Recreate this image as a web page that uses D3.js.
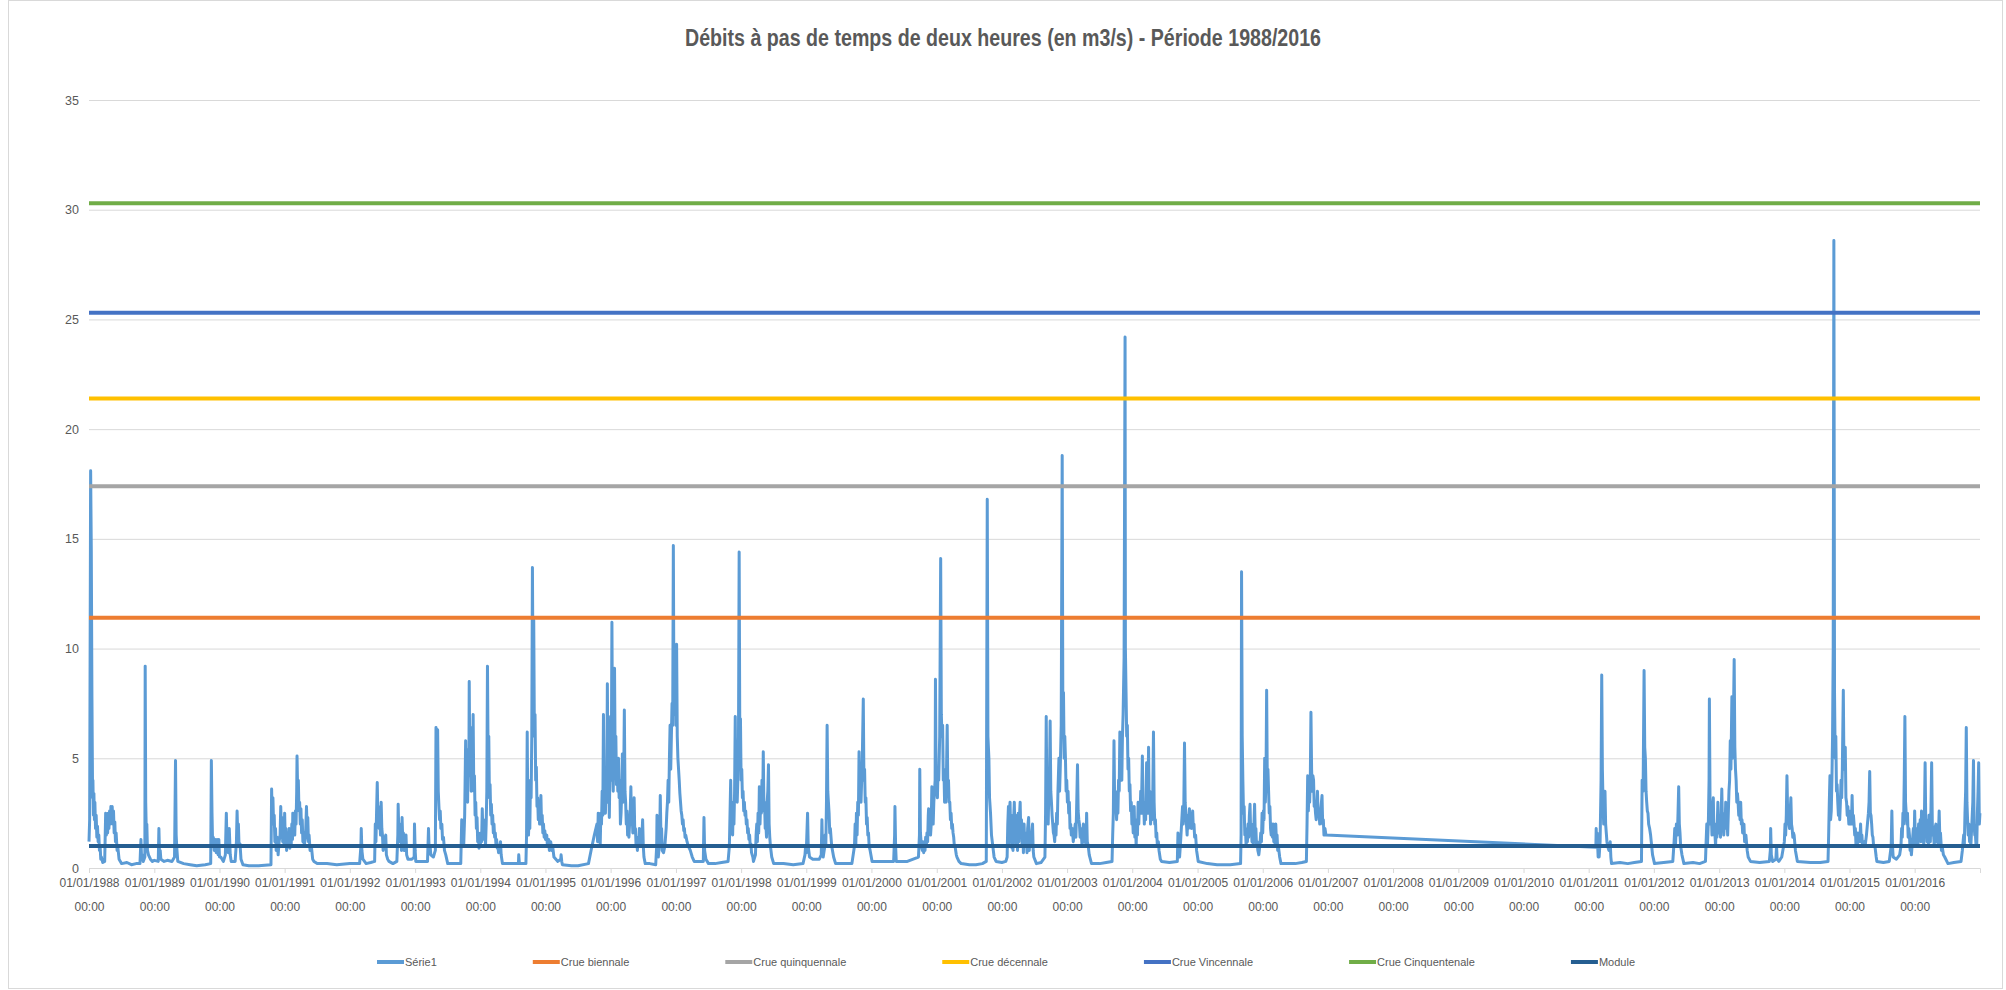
<!DOCTYPE html>
<html>
<head>
<meta charset="utf-8">
<script src="https://cdn.jsdelivr.net/npm/d3@7"></script>
<style>
  body { margin: 0; background: #fff; }
  text { font-family: "Liberation Sans", Arial, sans-serif; fill: #595959; }
</style>
</head>
<body>
<svg id="chart" width="2006" height="990"></svg>
<script>
// 2-hour flows, as [decimal year, m3/s]
var flow1988_1990 = [
  [1988.00, 1.2], [1988.01, 2.2], [1988.025, 18.1], [1988.035, 14.5], [1988.045, 7.7], [1988.055, 3.2],
  [1988.06, 4.0], [1988.068, 2.4], [1988.075, 3.4], [1988.083, 2.2], [1988.09, 3.0], [1988.10, 1.8],
  [1988.11, 2.4], [1988.12, 1.4], [1988.13, 1.9], [1988.14, 1.2], [1988.15, 1.5], [1988.16, 0.8],
  [1988.17, 1.0], [1988.18, 0.4], [1988.19, 0.5], [1988.21, 0.25], [1988.24, 0.3], [1988.255, 2.5],
  [1988.265, 1.5], [1988.275, 2.2], [1988.285, 1.6], [1988.295, 2.5], [1988.305, 1.8], [1988.315, 2.6],
  [1988.325, 2.0], [1988.335, 2.8], [1988.345, 2.2], [1988.355, 2.8], [1988.365, 2.0], [1988.375, 2.6],
  [1988.385, 1.6], [1988.395, 2.1], [1988.405, 1.2], [1988.415, 1.6], [1988.43, 0.8], [1988.44, 1.0],
  [1988.46, 0.4], [1988.48, 0.3], [1988.50, 0.2], [1988.58, 0.25], [1988.65, 0.15], [1988.72, 0.2],
  [1988.78, 0.2], [1988.795, 1.3], [1988.805, 0.4], [1988.815, 0.6], [1988.83, 0.3], [1988.855, 0.5],
  [1988.86, 9.2], [1988.868, 3.0], [1988.876, 1.8], [1988.885, 2.0], [1988.895, 0.8], [1988.91, 0.6],
  [1988.94, 0.4], [1988.97, 0.3], [1989.00, 0.35], [1989.06, 0.3], [1989.07, 1.8], [1989.08, 0.6],
  [1989.09, 0.8], [1989.10, 0.4], [1989.15, 0.3], [1989.20, 0.35], [1989.27, 0.3], [1989.31, 0.5],
  [1989.325, 4.9], [1989.335, 1.5], [1989.345, 0.9], [1989.36, 0.3], [1989.45, 0.2], [1989.55, 0.15],
  [1989.65, 0.1], [1989.78, 0.15], [1989.865, 0.2], [1989.875, 4.9], [1989.885, 2.5], [1989.895, 1.0],
  [1989.905, 1.4], [1989.92, 0.8], [1989.935, 1.3], [1989.95, 0.7], [1989.965, 1.3], [1989.98, 0.6],
  [1989.99, 1.3], [1990.00, 0.5], [1990.02, 0.5], [1990.06, 0.3], [1990.09, 0.6], [1990.105, 2.5],
  [1990.115, 1.2], [1990.125, 1.6], [1990.135, 0.7], [1990.15, 1.8], [1990.165, 0.6], [1990.18, 0.3],
  [1990.24, 0.3], [1990.26, 1.2], [1990.27, 2.6], [1990.28, 1.5], [1990.29, 2.0], [1990.30, 1.0],
  [1990.315, 1.1], [1990.33, 0.4], [1990.36, 0.15], [1990.45, 0.1], [1990.60, 0.1], [1990.79, 0.15]
];
var flow1990_1993 = [
  [1990.80, 3.6], [1990.81, 2.2], [1990.82, 3.2], [1990.83, 2.0], [1990.84, 2.4], [1990.85, 1.2],
  [1990.86, 1.8], [1990.87, 0.8], [1990.885, 1.4], [1990.90, 0.6], [1990.915, 1.2], [1990.93, 1.5],
  [1990.94, 2.8], [1990.95, 1.6], [1990.96, 2.3], [1990.97, 1.2], [1990.98, 1.8], [1990.99, 1.0],
  [1991.00, 2.5], [1991.01, 1.2], [1991.02, 1.8], [1991.03, 0.8], [1991.045, 1.6], [1991.06, 1.0],
  [1991.07, 1.8], [1991.08, 0.9], [1991.09, 1.5], [1991.10, 1.0], [1991.11, 2.0], [1991.12, 1.3],
  [1991.125, 2.5], [1991.135, 1.6], [1991.145, 2.2], [1991.155, 1.5], [1991.165, 2.6], [1991.175, 2.0],
  [1991.185, 3.5], [1991.19, 5.1], [1991.20, 3.4], [1991.21, 4.0], [1991.22, 2.6], [1991.23, 3.0],
  [1991.24, 2.0], [1991.25, 2.7], [1991.26, 1.6], [1991.27, 2.2], [1991.28, 1.2], [1991.29, 1.6],
  [1991.30, 1.0], [1991.32, 1.4], [1991.335, 2.8], [1991.345, 1.8], [1991.355, 2.3], [1991.365, 1.2],
  [1991.375, 1.5], [1991.39, 0.8], [1991.41, 1.0], [1991.43, 0.4], [1991.45, 0.3], [1991.50, 0.2],
  [1991.65, 0.2], [1991.80, 0.15], [1992.00, 0.2], [1992.15, 0.2], [1992.17, 1.0], [1992.175, 1.8],
  [1992.185, 0.8], [1992.20, 0.4], [1992.25, 0.2], [1992.32, 0.25], [1992.38, 0.3], [1992.39, 2.0],
  [1992.40, 1.2], [1992.41, 2.6], [1992.42, 3.9], [1992.43, 2.3], [1992.44, 2.8], [1992.45, 1.8],
  [1992.46, 2.3], [1992.47, 1.5], [1992.48, 3.0], [1992.49, 1.8], [1992.50, 1.5], [1992.51, 0.8],
  [1992.53, 1.3], [1992.55, 1.5], [1992.56, 0.6], [1992.58, 0.4], [1992.60, 0.3], [1992.66, 0.2],
  [1992.72, 0.3], [1992.735, 1.5], [1992.74, 2.9], [1992.75, 1.6], [1992.76, 2.0], [1992.77, 1.2],
  [1992.78, 1.6], [1992.79, 0.8], [1992.80, 2.3], [1992.81, 1.3], [1992.82, 1.6], [1992.83, 0.8],
  [1992.845, 1.2], [1992.86, 1.5], [1992.87, 0.6], [1992.89, 0.4], [1992.95, 0.4], [1992.985, 0.5],
  [1992.99, 2.0], [1993.00, 0.8], [1993.01, 0.3], [1993.10, 0.3], [1993.19, 0.3], [1993.205, 1.8],
  [1993.215, 0.8], [1993.23, 1.0], [1993.24, 0.6], [1993.28, 0.5], [1993.31, 0.8], [1993.32, 6.4],
  [1993.335, 5.0], [1993.345, 6.3], [1993.355, 3.5], [1993.365, 2.8], [1993.375, 2.2], [1993.385, 2.6],
  [1993.395, 1.8], [1993.41, 2.0], [1993.42, 1.3], [1993.435, 1.4], [1993.45, 0.8], [1993.47, 0.6],
  [1993.50, 0.2], [1993.60, 0.2], [1993.70, 0.2]
];
var flow1993_1996 = [
  [1993.715, 2.2], [1993.725, 1.5], [1993.735, 2.0], [1993.745, 1.0], [1993.76, 2.4], [1993.775, 5.8],
  [1993.785, 3.5], [1993.795, 5.0], [1993.805, 3.0], [1993.815, 5.4], [1993.825, 4.5], [1993.83, 8.5],
  [1993.84, 4.2], [1993.85, 6.0], [1993.86, 3.5], [1993.87, 6.4], [1993.88, 4.0], [1993.89, 7.0],
  [1993.90, 3.5], [1993.91, 4.2], [1993.92, 2.4], [1993.93, 3.0], [1993.94, 1.8], [1993.95, 2.3],
  [1993.96, 1.2], [1993.97, 1.6], [1993.98, 0.9], [1993.99, 1.4], [1994.00, 1.0], [1994.01, 1.6],
  [1994.02, 1.2], [1994.03, 2.7], [1994.04, 1.6], [1994.05, 2.2], [1994.06, 1.3], [1994.07, 1.8],
  [1994.08, 1.0], [1994.09, 2.0], [1994.10, 3.5], [1994.11, 9.2], [1994.12, 5.0], [1994.13, 6.0],
  [1994.14, 3.2], [1994.15, 3.8], [1994.16, 2.4], [1994.17, 2.9], [1994.18, 2.0], [1994.19, 2.4],
  [1994.20, 1.6], [1994.21, 2.0], [1994.22, 1.4], [1994.23, 1.6], [1994.24, 1.1], [1994.25, 1.3],
  [1994.26, 0.9], [1994.27, 1.0], [1994.28, 0.7], [1994.30, 1.0], [1994.31, 1.2], [1994.32, 0.6],
  [1994.34, 0.2], [1994.45, 0.2], [1994.585, 0.2], [1994.59, 0.6], [1994.60, 0.2], [1994.70, 0.2],
  [1994.71, 1.5], [1994.72, 6.2], [1994.73, 2.0], [1994.74, 1.5], [1994.75, 2.5], [1994.76, 1.8],
  [1994.77, 4.0], [1994.78, 3.2], [1994.79, 6.0], [1994.80, 13.7], [1994.81, 8.0], [1994.82, 11.3],
  [1994.83, 6.0], [1994.84, 7.0], [1994.85, 4.0], [1994.86, 4.6], [1994.87, 2.8], [1994.88, 3.2],
  [1994.89, 2.2], [1994.90, 2.8], [1994.91, 2.0], [1994.92, 2.6], [1994.93, 3.3], [1994.94, 2.0],
  [1994.95, 2.4], [1994.96, 1.6], [1994.97, 2.0], [1994.98, 1.4], [1994.99, 1.7], [1995.00, 1.3],
  [1995.02, 1.5], [1995.03, 1.0], [1995.05, 1.3], [1995.06, 0.8], [1995.08, 1.2], [1995.10, 0.8],
  [1995.11, 1.0], [1995.13, 0.5], [1995.16, 0.4], [1995.19, 0.3], [1995.235, 0.4], [1995.24, 0.6],
  [1995.25, 0.3], [1995.26, 0.15], [1995.40, 0.1], [1995.50, 0.1], [1995.66, 0.2], [1995.70, 0.8],
  [1995.75, 1.5], [1995.79, 2.0], [1995.80, 1.2], [1995.81, 2.5], [1995.82, 1.5], [1995.83, 2.0],
  [1995.84, 1.0], [1995.85, 2.5], [1995.86, 2.0], [1995.87, 3.5], [1995.88, 2.4], [1995.89, 7.0],
  [1995.90, 3.5], [1995.91, 4.5], [1995.92, 2.5], [1995.93, 3.8], [1995.94, 3.0], [1995.95, 8.4],
  [1995.96, 3.5], [1995.97, 5.0], [1995.98, 2.3], [1995.99, 4.5], [1996.00, 6.9], [1996.01, 4.0],
  [1996.02, 11.2], [1996.03, 5.0], [1996.04, 3.5], [1996.05, 5.5], [1996.06, 9.1], [1996.07, 4.5],
  [1996.08, 6.0], [1996.09, 3.8], [1996.10, 5.0], [1996.11, 3.5], [1996.12, 5.0], [1996.13, 3.2],
  [1996.14, 4.0], [1996.15, 2.0], [1996.16, 2.5], [1996.17, 3.5], [1996.18, 5.2], [1996.19, 3.0],
  [1996.20, 4.0], [1996.21, 7.2], [1996.22, 3.5], [1996.23, 3.0], [1996.24, 2.0], [1996.25, 2.6],
  [1996.26, 1.5], [1996.27, 2.0], [1996.28, 1.4], [1996.29, 2.0], [1996.30, 2.6], [1996.31, 3.7],
  [1996.32, 2.0], [1996.33, 2.4], [1996.34, 1.6], [1996.35, 2.2], [1996.36, 3.2], [1996.37, 1.6],
  [1996.38, 1.8], [1996.39, 1.0], [1996.40, 1.2], [1996.41, 0.8], [1996.42, 1.4], [1996.43, 1.0],
  [1996.44, 1.8], [1996.45, 1.2], [1996.46, 1.6], [1996.47, 1.0], [1996.48, 1.5], [1996.49, 2.2],
  [1996.50, 1.0], [1996.51, 0.5], [1996.53, 0.2], [1996.60, 0.2], [1996.69, 0.15]
];
var flow1996_1999 = [
  [1996.705, 1.0], [1996.71, 2.4], [1996.72, 1.0], [1996.73, 0.5], [1996.75, 1.2], [1996.76, 3.3],
  [1996.77, 1.5], [1996.78, 1.8], [1996.79, 0.8], [1996.81, 0.7], [1996.83, 1.0], [1996.85, 1.8],
  [1996.86, 2.5], [1996.87, 3.0], [1996.88, 4.0], [1996.89, 3.0], [1996.90, 5.0], [1996.91, 6.5],
  [1996.92, 4.5], [1996.93, 6.0], [1996.94, 7.5], [1996.95, 6.5], [1996.96, 14.7], [1996.97, 7.0],
  [1996.98, 8.0], [1996.99, 9.0], [1997.00, 6.5], [1997.01, 10.2], [1997.02, 6.0], [1997.03, 5.0],
  [1997.04, 4.5], [1997.05, 4.0], [1997.06, 3.4], [1997.07, 3.0], [1997.08, 2.6], [1997.09, 2.4],
  [1997.10, 2.0], [1997.11, 2.2], [1997.12, 1.7], [1997.13, 1.8], [1997.14, 1.4], [1997.15, 1.5],
  [1997.17, 1.2], [1997.19, 1.0], [1997.22, 0.8], [1997.25, 0.5], [1997.28, 0.3], [1997.35, 0.3],
  [1997.42, 0.3], [1997.43, 2.3], [1997.44, 0.8], [1997.46, 0.4], [1997.50, 0.2], [1997.60, 0.2],
  [1997.70, 0.25], [1997.80, 0.3], [1997.82, 1.0], [1997.84, 4.0], [1997.85, 2.0], [1997.86, 2.8],
  [1997.87, 1.5], [1997.88, 3.0], [1997.89, 2.0], [1997.90, 3.5], [1997.91, 6.9], [1997.92, 3.2],
  [1997.93, 4.0], [1997.94, 3.0], [1997.95, 4.0], [1997.96, 6.0], [1997.97, 14.4], [1997.98, 6.0],
  [1997.99, 6.8], [1998.00, 4.0], [1998.01, 4.5], [1998.02, 3.2], [1998.03, 3.5], [1998.04, 2.6],
  [1998.05, 3.0], [1998.06, 2.4], [1998.07, 2.6], [1998.08, 2.0], [1998.09, 2.2], [1998.10, 1.6],
  [1998.11, 1.8], [1998.12, 1.3], [1998.13, 1.5], [1998.14, 1.0], [1998.15, 1.1], [1998.16, 0.7],
  [1998.18, 0.5], [1998.19, 0.3], [1998.22, 0.6], [1998.23, 1.5], [1998.24, 2.0], [1998.25, 1.2],
  [1998.26, 2.5], [1998.27, 1.6], [1998.28, 3.7], [1998.29, 2.0], [1998.30, 3.0], [1998.31, 2.5],
  [1998.32, 4.0], [1998.33, 2.6], [1998.34, 5.3], [1998.35, 2.8], [1998.36, 3.0], [1998.37, 1.8],
  [1998.38, 2.0], [1998.39, 1.4], [1998.40, 3.0], [1998.41, 3.5], [1998.42, 4.7], [1998.43, 2.0],
  [1998.44, 1.4], [1998.45, 1.0], [1998.47, 0.5], [1998.50, 0.2], [1998.65, 0.2], [1998.80, 0.15],
  [1998.95, 0.2], [1998.98, 0.6], [1998.99, 1.0], [1999.00, 0.7], [1999.02, 2.5], [1999.03, 1.0],
  [1999.05, 0.5], [1999.10, 0.4], [1999.20, 0.4], [1999.23, 0.6], [1999.24, 2.2], [1999.25, 0.8],
  [1999.26, 0.5], [1999.28, 0.9], [1999.29, 1.5], [1999.30, 1.0], [1999.31, 3.0], [1999.32, 6.5],
  [1999.33, 3.5], [1999.34, 3.0], [1999.35, 2.5], [1999.36, 1.6], [1999.37, 1.8], [1999.39, 1.0],
  [1999.42, 0.5], [1999.45, 0.2], [1999.60, 0.2], [1999.70, 0.2]
];
var flow1999_2002 = [
  [1999.74, 1.0], [1999.75, 2.0], [1999.76, 1.0], [1999.77, 2.5], [1999.78, 1.5], [1999.79, 3.0],
  [1999.80, 2.4], [1999.81, 5.3], [1999.82, 3.0], [1999.83, 3.5], [1999.84, 3.0], [1999.85, 4.0],
  [1999.86, 5.0], [1999.875, 7.7], [1999.885, 4.0], [1999.895, 4.5], [1999.905, 3.0], [1999.915, 3.2],
  [1999.925, 2.0], [1999.935, 2.3], [1999.945, 1.5], [1999.955, 1.6], [1999.965, 1.0], [1999.98, 0.8],
  [2000.01, 0.3], [2000.15, 0.3], [2000.34, 0.3], [2000.355, 1.5], [2000.36, 2.8], [2000.37, 1.0],
  [2000.38, 0.3], [2000.55, 0.3], [2000.72, 0.5], [2000.735, 1.5], [2000.74, 4.5], [2000.75, 1.6],
  [2000.765, 1.0], [2000.78, 0.8], [2000.79, 1.2], [2000.80, 0.7], [2000.81, 1.2], [2000.82, 0.8],
  [2000.83, 1.4], [2000.84, 1.0], [2000.85, 1.6], [2000.86, 1.2], [2000.87, 2.4], [2000.875, 2.7],
  [2000.885, 1.6], [2000.895, 2.2], [2000.905, 1.5], [2000.915, 2.0], [2000.925, 3.7], [2000.935, 2.4],
  [2000.945, 2.0], [2000.955, 3.0], [2000.965, 3.5], [2000.975, 4.0], [2000.98, 8.6], [2000.99, 4.0],
  [2001.00, 3.5], [2001.01, 3.2], [2001.02, 4.5], [2001.03, 4.0], [2001.045, 6.0], [2001.06, 14.1],
  [2001.07, 7.0], [2001.08, 6.0], [2001.09, 6.5], [2001.10, 4.0], [2001.11, 4.5], [2001.12, 3.0],
  [2001.13, 3.5], [2001.14, 3.0], [2001.15, 4.5], [2001.16, 6.5], [2001.17, 3.5], [2001.18, 4.0],
  [2001.19, 3.0], [2001.20, 3.0], [2001.21, 2.2], [2001.22, 2.5], [2001.23, 1.8], [2001.24, 2.0],
  [2001.25, 1.6], [2001.26, 1.4], [2001.27, 1.0], [2001.28, 1.0], [2001.30, 0.6], [2001.31, 0.5],
  [2001.34, 0.3], [2001.375, 0.2], [2001.50, 0.15], [2001.60, 0.15], [2001.70, 0.2], [2001.76, 0.3],
  [2001.775, 16.8], [2001.785, 6.0], [2001.80, 5.0], [2001.81, 3.2], [2001.825, 2.5], [2001.84, 1.5],
  [2001.86, 1.0], [2001.88, 0.5], [2001.91, 0.3], [2002.00, 0.25], [2002.06, 0.3]
];
var flow2002_2005 = [
  [2002.08, 0.5], [2002.09, 2.0], [2002.10, 2.8], [2002.105, 1.0], [2002.115, 2.6], [2002.125, 3.0],
  [2002.135, 1.2], [2002.145, 2.4], [2002.155, 0.9], [2002.16, 2.0], [2002.17, 0.8], [2002.18, 2.2],
  [2002.19, 3.0], [2002.20, 1.5], [2002.21, 2.4], [2002.22, 1.0], [2002.23, 2.0], [2002.24, 0.8],
  [2002.25, 2.5], [2002.26, 1.2], [2002.27, 2.4], [2002.28, 3.0], [2002.29, 1.5], [2002.30, 2.2],
  [2002.31, 1.0], [2002.32, 1.8], [2002.33, 0.7], [2002.34, 2.0], [2002.35, 1.0], [2002.36, 1.6],
  [2002.375, 1.5], [2002.385, 0.7], [2002.395, 1.8], [2002.41, 2.3], [2002.42, 0.8], [2002.43, 1.4],
  [2002.44, 1.0], [2002.455, 1.5], [2002.47, 2.0], [2002.48, 0.8], [2002.49, 0.5], [2002.53, 0.2],
  [2002.60, 0.25], [2002.66, 0.5], [2002.67, 2.5], [2002.68, 6.9], [2002.69, 3.0], [2002.70, 2.4],
  [2002.71, 2.0], [2002.72, 3.5], [2002.73, 4.0], [2002.74, 6.7], [2002.75, 3.5], [2002.76, 3.0],
  [2002.77, 2.4], [2002.78, 2.0], [2002.79, 1.6], [2002.80, 1.5], [2002.81, 1.2], [2002.82, 2.0],
  [2002.83, 1.5], [2002.84, 2.5], [2002.85, 2.0], [2002.86, 3.5], [2002.875, 5.0], [2002.885, 3.5],
  [2002.895, 4.5], [2002.91, 6.5], [2002.925, 18.8], [2002.935, 7.0], [2002.945, 8.0], [2002.955, 5.0],
  [2002.965, 6.0], [2002.975, 5.0], [2002.985, 3.5], [2002.995, 4.0], [2003.005, 3.0], [2003.015, 3.5],
  [2003.025, 2.5], [2003.035, 3.0], [2003.045, 1.8], [2003.055, 2.0], [2003.065, 1.5], [2003.08, 1.8],
  [2003.095, 1.2], [2003.11, 1.6], [2003.125, 2.0], [2003.135, 1.4], [2003.145, 2.5], [2003.16, 4.7],
  [2003.17, 2.6], [2003.18, 2.2], [2003.19, 2.0], [2003.20, 1.4], [2003.21, 1.8], [2003.22, 1.5],
  [2003.23, 1.0], [2003.24, 1.6], [2003.25, 2.0], [2003.26, 1.2], [2003.275, 1.6], [2003.29, 1.0],
  [2003.30, 2.5], [2003.31, 1.2], [2003.325, 1.0], [2003.34, 0.6], [2003.375, 0.2], [2003.50, 0.2],
  [2003.60, 0.25], [2003.69, 0.3], [2003.70, 1.5], [2003.71, 2.5], [2003.72, 5.8], [2003.73, 3.0],
  [2003.74, 3.5], [2003.75, 3.0], [2003.76, 2.2], [2003.77, 3.0], [2003.78, 2.5], [2003.79, 4.0],
  [2003.80, 3.5], [2003.81, 6.2], [2003.82, 4.0], [2003.83, 5.0], [2003.84, 4.0], [2003.85, 6.0],
  [2003.86, 7.0], [2003.875, 9.6], [2003.89, 24.2], [2003.895, 10.0], [2003.905, 8.0], [2003.915, 6.0],
  [2003.925, 6.5], [2003.935, 4.5], [2003.945, 5.0], [2003.955, 3.5], [2003.965, 3.8], [2003.975, 2.6],
  [2003.985, 3.0], [2003.995, 2.0], [2004.005, 2.4], [2004.015, 1.6], [2004.025, 2.0], [2004.03, 2.8],
  [2004.04, 1.4], [2004.05, 2.0], [2004.06, 1.0], [2004.07, 2.2], [2004.08, 1.5], [2004.09, 3.0],
  [2004.10, 2.0], [2004.11, 3.0], [2004.12, 2.5], [2004.13, 3.5], [2004.14, 2.5], [2004.155, 5.1],
  [2004.165, 2.5], [2004.175, 3.0], [2004.185, 2.0], [2004.195, 3.0], [2004.205, 2.2], [2004.22, 4.8],
  [2004.23, 2.5], [2004.24, 3.0], [2004.25, 5.5], [2004.26, 2.5], [2004.27, 3.5], [2004.28, 2.0],
  [2004.29, 2.5], [2004.30, 2.2], [2004.315, 3.5], [2004.325, 6.2], [2004.335, 3.0], [2004.345, 2.0],
  [2004.355, 2.2], [2004.365, 1.4], [2004.375, 1.6], [2004.385, 1.0], [2004.40, 1.2], [2004.41, 0.8],
  [2004.43, 0.4], [2004.45, 0.3], [2004.57, 0.25], [2004.69, 0.3], [2004.70, 1.6], [2004.71, 0.6],
  [2004.725, 0.5], [2004.74, 1.2], [2004.755, 2.0], [2004.77, 2.8], [2004.78, 2.0], [2004.79, 3.0],
  [2004.80, 5.7], [2004.81, 3.0], [2004.82, 2.5], [2004.83, 2.0], [2004.84, 1.5], [2004.85, 2.4],
  [2004.86, 1.8], [2004.875, 2.7], [2004.885, 2.0], [2004.895, 2.4], [2004.905, 1.8], [2004.915, 2.2],
  [2004.925, 2.6], [2004.935, 1.8], [2004.945, 2.0], [2004.955, 1.4], [2004.97, 1.5], [2004.985, 0.8],
  [2005.00, 0.5], [2005.01, 0.3], [2005.15, 0.2], [2005.30, 0.15], [2005.50, 0.15], [2005.66, 0.2]
];
var flow2005_2007 = [
  [2005.668, 1.5], [2005.675, 13.5], [2005.685, 6.0], [2005.695, 4.0], [2005.705, 2.5], [2005.715, 2.8],
  [2005.725, 1.5], [2005.735, 1.8], [2005.745, 1.0], [2005.755, 1.6], [2005.765, 1.2], [2005.775, 2.0],
  [2005.785, 1.4], [2005.795, 2.4], [2005.805, 2.9], [2005.815, 1.6], [2005.825, 2.0], [2005.835, 1.2],
  [2005.845, 1.5], [2005.855, 1.0], [2005.865, 2.0], [2005.875, 2.9], [2005.885, 1.6], [2005.895, 1.8],
  [2005.905, 1.0], [2005.915, 1.2], [2005.925, 0.8], [2005.94, 0.6], [2005.955, 1.0], [2005.97, 1.6],
  [2005.98, 1.2], [2005.99, 2.5], [2006.00, 1.6], [2006.01, 2.6], [2006.02, 2.2], [2006.03, 5.0],
  [2006.04, 3.0], [2006.05, 4.0], [2006.06, 8.1], [2006.07, 4.0], [2006.08, 4.5], [2006.09, 3.5],
  [2006.10, 2.5], [2006.11, 2.8], [2006.12, 1.8], [2006.13, 1.5], [2006.14, 2.0], [2006.15, 1.4],
  [2006.16, 2.0], [2006.17, 1.2], [2006.18, 1.8], [2006.19, 1.0], [2006.20, 2.0], [2006.21, 1.2],
  [2006.22, 1.5], [2006.23, 0.8], [2006.24, 1.0], [2006.26, 0.5], [2006.28, 0.2], [2006.40, 0.2],
  [2006.50, 0.2], [2006.60, 0.25], [2006.67, 0.3], [2006.68, 2.0], [2006.69, 4.2], [2006.70, 2.6],
  [2006.71, 3.5], [2006.72, 3.0], [2006.73, 4.0], [2006.74, 7.1], [2006.75, 4.5], [2006.76, 3.5],
  [2006.77, 4.2], [2006.78, 4.0], [2006.79, 2.8], [2006.80, 3.0], [2006.81, 2.5], [2006.82, 2.2],
  [2006.83, 2.8], [2006.84, 3.5], [2006.85, 2.4], [2006.86, 2.6], [2006.875, 2.0], [2006.885, 2.5],
  [2006.895, 2.8], [2006.91, 3.3], [2006.92, 2.0], [2006.93, 2.2], [2006.94, 1.5], [2006.955, 1.8],
  [2006.97, 1.5]
];
var flow2011_2013 = [
  [2011.11, 0.95], [2011.115, 1.8], [2011.12, 1.0], [2011.13, 1.6], [2011.145, 0.5], [2011.16, 0.5],
  [2011.175, 1.2], [2011.19, 4.0], [2011.20, 8.8], [2011.21, 4.5], [2011.22, 3.0], [2011.23, 2.0],
  [2011.24, 2.2], [2011.25, 3.5], [2011.26, 2.0], [2011.27, 1.6], [2011.28, 1.2], [2011.29, 1.0],
  [2011.31, 0.8], [2011.33, 1.2], [2011.34, 0.5], [2011.35, 0.2], [2011.48, 0.25], [2011.60, 0.2],
  [2011.70, 0.25], [2011.81, 0.3], [2011.82, 4.0], [2011.835, 3.5], [2011.85, 9.0], [2011.86, 5.5],
  [2011.87, 5.0], [2011.88, 3.5], [2011.89, 3.0], [2011.90, 2.6], [2011.91, 2.5], [2011.92, 2.0],
  [2011.935, 1.8], [2011.95, 1.5], [2011.96, 1.2], [2011.98, 0.6], [2012.01, 0.2], [2012.15, 0.25],
  [2012.29, 0.3], [2012.31, 1.2], [2012.32, 1.8], [2012.33, 1.0], [2012.345, 2.0], [2012.36, 1.5],
  [2012.37, 2.5], [2012.38, 3.7], [2012.39, 2.0], [2012.40, 1.6], [2012.41, 1.0], [2012.43, 0.6],
  [2012.46, 0.2], [2012.60, 0.25], [2012.70, 0.2], [2012.79, 0.3], [2012.80, 1.2], [2012.81, 2.0],
  [2012.82, 1.0], [2012.835, 2.2], [2012.845, 4.0], [2012.85, 7.7], [2012.86, 3.0], [2012.87, 2.0],
  [2012.88, 2.4], [2012.89, 1.5], [2012.90, 2.8], [2012.91, 3.2], [2012.92, 1.5], [2012.93, 1.8],
  [2012.945, 1.0], [2012.955, 2.0], [2012.965, 1.4], [2012.98, 3.0], [2012.99, 1.6], [2013.00, 2.2],
  [2013.01, 2.0], [2013.02, 1.4], [2013.03, 2.4], [2013.04, 3.6], [2013.05, 2.0], [2013.06, 2.5],
  [2013.07, 1.5], [2013.08, 2.0], [2013.09, 1.8], [2013.10, 3.0], [2013.11, 2.0], [2013.12, 2.4],
  [2013.13, 1.5], [2013.14, 2.5], [2013.15, 3.5], [2013.16, 4.0], [2013.17, 5.8], [2013.18, 4.5],
  [2013.195, 7.8], [2013.205, 5.0], [2013.215, 6.0], [2013.23, 9.5], [2013.24, 5.5], [2013.25, 4.5],
  [2013.26, 4.0], [2013.27, 3.0], [2013.28, 3.4], [2013.29, 3.0], [2013.30, 2.4], [2013.31, 2.8],
  [2013.32, 2.2], [2013.33, 3.0], [2013.34, 2.0], [2013.35, 2.2], [2013.36, 1.6], [2013.37, 1.8],
  [2013.38, 2.0], [2013.39, 1.2], [2013.40, 1.4], [2013.41, 1.5], [2013.43, 0.8], [2013.445, 0.5],
  [2013.48, 0.3]
];
var flow2013_2016 = [
  [2013.62, 0.25], [2013.77, 0.3], [2013.785, 0.8], [2013.79, 1.8], [2013.80, 0.6], [2013.82, 0.3],
  [2013.87, 0.4], [2013.88, 1.0], [2013.89, 0.4], [2013.915, 0.3], [2013.96, 0.5], [2014.00, 1.2],
  [2014.01, 2.0], [2014.02, 1.5], [2014.03, 2.4], [2014.04, 4.2], [2014.05, 2.6], [2014.06, 2.4],
  [2014.07, 2.0], [2014.08, 1.8], [2014.09, 2.6], [2014.10, 3.2], [2014.11, 2.0], [2014.12, 1.8],
  [2014.13, 1.4], [2014.14, 1.6], [2014.15, 1.5], [2014.17, 0.8], [2014.20, 0.3], [2014.40, 0.25],
  [2014.55, 0.25], [2014.67, 0.3], [2014.68, 1.5], [2014.69, 3.0], [2014.70, 4.2], [2014.71, 2.2],
  [2014.72, 2.6], [2014.73, 4.0], [2014.74, 6.0], [2014.75, 10.0], [2014.76, 28.6], [2014.77, 8.0],
  [2014.78, 5.0], [2014.79, 6.0], [2014.80, 3.5], [2014.81, 3.8], [2014.82, 3.0], [2014.83, 2.4],
  [2014.84, 3.0], [2014.85, 2.2], [2014.86, 3.0], [2014.87, 4.0], [2014.88, 3.2], [2014.89, 4.5],
  [2014.905, 8.1], [2014.915, 4.5], [2014.925, 5.0], [2014.935, 5.5], [2014.945, 3.2], [2014.955, 3.0],
  [2014.965, 2.4], [2014.975, 2.8], [2014.99, 2.0], [2015.00, 2.2], [2015.01, 2.0], [2015.02, 2.6],
  [2015.03, 2.0], [2015.04, 3.3], [2015.05, 2.0], [2015.06, 2.4], [2015.07, 2.0], [2015.08, 1.5],
  [2015.09, 1.8], [2015.10, 1.0], [2015.11, 1.4], [2015.12, 1.0], [2015.13, 1.6], [2015.14, 1.2],
  [2015.15, 1.6], [2015.16, 1.2], [2015.17, 2.0], [2015.18, 1.2], [2015.19, 1.5], [2015.20, 1.0],
  [2015.22, 1.2], [2015.24, 1.0], [2015.26, 1.5], [2015.275, 2.0], [2015.29, 2.5], [2015.30, 3.0],
  [2015.31, 4.4], [2015.32, 2.5], [2015.33, 2.4], [2015.34, 2.0], [2015.35, 1.5], [2015.36, 1.4],
  [2015.37, 1.0], [2015.39, 1.0], [2015.41, 0.5], [2015.42, 0.3], [2015.52, 0.25], [2015.61, 0.3],
  [2015.64, 1.0], [2015.65, 2.6], [2015.66, 1.0], [2015.67, 0.5], [2015.72, 0.4], [2015.77, 0.6],
  [2015.79, 1.0], [2015.80, 1.8], [2015.81, 1.4], [2015.82, 2.5], [2015.83, 2.0], [2015.84, 4.0],
  [2015.85, 6.9], [2015.86, 3.0], [2015.87, 2.5], [2015.88, 2.0], [2015.89, 2.5], [2015.90, 1.4],
  [2015.91, 1.8], [2015.92, 1.5], [2015.93, 0.8], [2015.94, 1.0], [2015.95, 0.6], [2015.965, 1.2],
  [2015.98, 1.8], [2015.99, 1.0], [2016.00, 2.6], [2016.01, 1.2], [2016.02, 1.6], [2016.025, 1.0],
  [2016.04, 1.8], [2016.05, 1.0], [2016.06, 2.0], [2016.075, 1.5], [2016.085, 2.2], [2016.095, 1.2],
  [2016.105, 2.6], [2016.115, 1.6], [2016.125, 2.0], [2016.14, 1.0], [2016.15, 2.5], [2016.16, 4.8],
  [2016.17, 2.0], [2016.18, 2.2], [2016.19, 1.2], [2016.20, 1.5], [2016.21, 1.0], [2016.22, 2.4],
  [2016.23, 2.0], [2016.24, 1.2], [2016.25, 2.8], [2016.26, 4.8], [2016.27, 2.0], [2016.28, 1.5],
  [2016.29, 1.5], [2016.30, 1.0], [2016.31, 1.8], [2016.325, 2.0], [2016.335, 1.2], [2016.35, 1.6],
  [2016.36, 1.0], [2016.375, 2.6], [2016.385, 1.4], [2016.395, 1.6], [2016.41, 0.8], [2016.42, 1.0],
  [2016.44, 0.6], [2016.46, 0.5], [2016.51, 0.2], [2016.60, 0.25], [2016.71, 0.3], [2016.73, 0.8],
  [2016.75, 1.5], [2016.76, 1.0], [2016.77, 2.5], [2016.78, 3.5], [2016.79, 6.4], [2016.80, 3.0],
  [2016.81, 2.2], [2016.82, 1.5], [2016.83, 2.0], [2016.84, 1.2], [2016.85, 1.4], [2016.86, 1.0],
  [2016.875, 2.0], [2016.89, 3.0], [2016.90, 4.9], [2016.91, 2.0], [2016.92, 1.5], [2016.93, 1.5],
  [2016.94, 1.0], [2016.95, 1.0], [2016.96, 2.5], [2016.97, 3.5], [2016.98, 4.8], [2016.99, 2.0],
  [2016.999, 2.5]
];

// reference levels (m3/s)
var levelNames = ["Crue biennale", "Crue quinquennale", "Crue décennale", "Crue Vincennale", "Crue Cinquentenale", "Module"];
var levelValues = [11.4, 17.4, 21.4, 25.3, 30.3, 1.0];
var levelColors = ["#ED7D31", "#A5A5A5", "#FFC000", "#4472C4", "#70AD47", "#255E91"];
var periodYears = [1988, 2017];

var yTickValues = [0, 5, 10, 15, 20, 25, 30, 35];
var xTickYears = [1988, 1989, 1990, 1991, 1992, 1993, 1994, 1995, 1996, 1997, 1998, 1999, 2000, 2001,
  2002, 2003, 2004, 2005, 2006, 2007, 2008, 2009, 2010, 2011, 2012, 2013, 2014, 2015, 2016];

var title = "Débits à pas de temps de deux heures (en m3/s) - Période 1988/2016";

var yearToDate = function (yr) {
    var y0 = Math.floor(yr),
        start = Date.UTC(y0, 0, 1),
        end = Date.UTC(y0 + 1, 0, 1);
    return new Date(start + (yr - y0) * (end - start));
};
var pad = function (n) { return n < 10 ? "0" + n : "" + n; };

var serie1 = [].concat(flow1988_1990, flow1990_1993, flow1993_1996, flow1996_1999,
    flow1999_2002, flow2002_2005, flow2005_2007, flow2011_2013, flow2013_2016);

var plotLeft = 89, plotRight = 1980, plotTop = 100, plotBottom = 868,
    gridColor = "#D9D9D9";

var svg = d3.select("#chart");

// chart area border
svg.append("rect")
    .attr("x", 8.5).attr("y", 0.5)
    .attr("width", 1994).attr("height", 988)
    .attr("fill", "#fff")
    .attr("stroke", gridColor);

// the original used Calibri; use a narrow face if there is one
var probe = svg.append("text").attr("font-size", 20).text("01/01/1988");
var wideW = probe.node().getComputedTextLength();
probe.style("font-family", "'Liberation Sans Narrow'");
var narrowW = probe.node().getComputedTextLength();
probe.remove();
var hasNarrow = narrowW < wideW * 0.9,
    tickFont = hasNarrow ? "'Liberation Sans Narrow'" : null,
    tickSize = hasNarrow ? 14.5 : 12;

var x = d3.scaleUtc()
    .domain([yearToDate(periodYears[0]), yearToDate(periodYears[1])])
    .range([plotLeft, plotRight]);
var y = d3.scaleLinear().domain([0, 35]).range([plotBottom, plotTop]);

// y axis: gridlines + labels, no axis line
var yAxis = svg.append("g")
    .attr("transform", "translate(" + plotLeft + ",0)")
    .call(d3.axisLeft(y).tickValues(yTickValues).tickSize(-(plotRight - plotLeft)).tickPadding(10));
yAxis.select(".domain").remove();
yAxis.selectAll(".tick line").attr("stroke", gridColor).attr("stroke-width", 1);
yAxis.selectAll(".tick text")
    .attr("font-size", hasNarrow ? 14 : 12.5)
    .attr("font-family", null)
    .style("font-family", tickFont)
    .attr("fill", "#595959");

// x axis
var xAxis = svg.append("g")
    .attr("transform", "translate(0," + plotBottom + ")")
    .call(d3.axisBottom(x)
        .tickValues(xTickYears.map(yearToDate))
        .tickSize(5)
        .tickFormat(function () { return ""; }));
xAxis.select(".domain").attr("stroke", gridColor);
xAxis.selectAll(".tick line").attr("stroke", gridColor);
xAxis.selectAll(".tick text").remove();
xAxis.selectAll(".tick").each(function (d) {
    var g = d3.select(this);
    g.append("text")
        .attr("y", 19).attr("text-anchor", "middle").attr("font-size", tickSize)
        .style("font-family", tickFont)
        .text("01/01/" + d.getUTCFullYear());
    g.append("text")
        .attr("y", 43).attr("text-anchor", "middle").attr("font-size", tickSize)
        .style("font-family", tickFont)
        .text(pad(d.getUTCHours()) + ":" + pad(d.getUTCMinutes()));
});

// Série1
var line = d3.line()
    .x(function (d) { return x(yearToDate(d[0])); })
    .y(function (d) { return y(d[1]); });

svg.append("path")
    .datum(serie1)
    .attr("d", line)
    .attr("fill", "none")
    .attr("stroke", "#5B9BD5")
    .attr("stroke-width", 3)
    .attr("stroke-linejoin", "round");

// flood / module levels
svg.selectAll(".level")
    .data(levelValues)
    .enter().append("path")
    .attr("class", "level")
    .attr("d", function (v) { return line(periodYears.map(function (yr) { return [yr, v]; })); })
    .attr("fill", "none")
    .attr("stroke", function (v, i) { return levelColors[i]; })
    .attr("stroke-width", 4);

// title
svg.append("text")
    .attr("x", 1003).attr("y", 46)
    .attr("text-anchor", "middle")
    .attr("font-size", 24)
    .attr("font-weight", "bold")
    .attr("textLength", 636)
    .attr("lengthAdjust", "spacingAndGlyphs")
    .text(title);

// legend
var legendNames = ["Série1"].concat(levelNames),
    legendColors = ["#5B9BD5"].concat(levelColors),
    legendY = 962, swatchW = 27, gap = 96;

var legend = svg.append("g");
var items = legend.selectAll("g")
    .data(legendNames)
    .enter().append("g");
items.append("line")
    .attr("x1", 0).attr("x2", swatchW)
    .attr("y1", legendY).attr("y2", legendY)
    .attr("stroke", function (d, i) { return legendColors[i]; })
    .attr("stroke-width", 4);
items.append("text")
    .attr("x", swatchW + 1).attr("y", legendY + 4)
    .attr("font-size", hasNarrow ? 12.5 : 11)
    .style("font-family", tickFont)
    .text(function (d) { return d; });

var offsets = [], pos = 0;
items.each(function () {
    offsets.push(pos);
    pos += swatchW + 1 + d3.select(this).select("text").node().getComputedTextLength() + gap;
});
var total = pos - gap,
    legendLeft = 1006 - total / 2;
items.attr("transform", function (d, i) { return "translate(" + (legendLeft + offsets[i]) + ",0)"; });
</script>
</body>
</html>
